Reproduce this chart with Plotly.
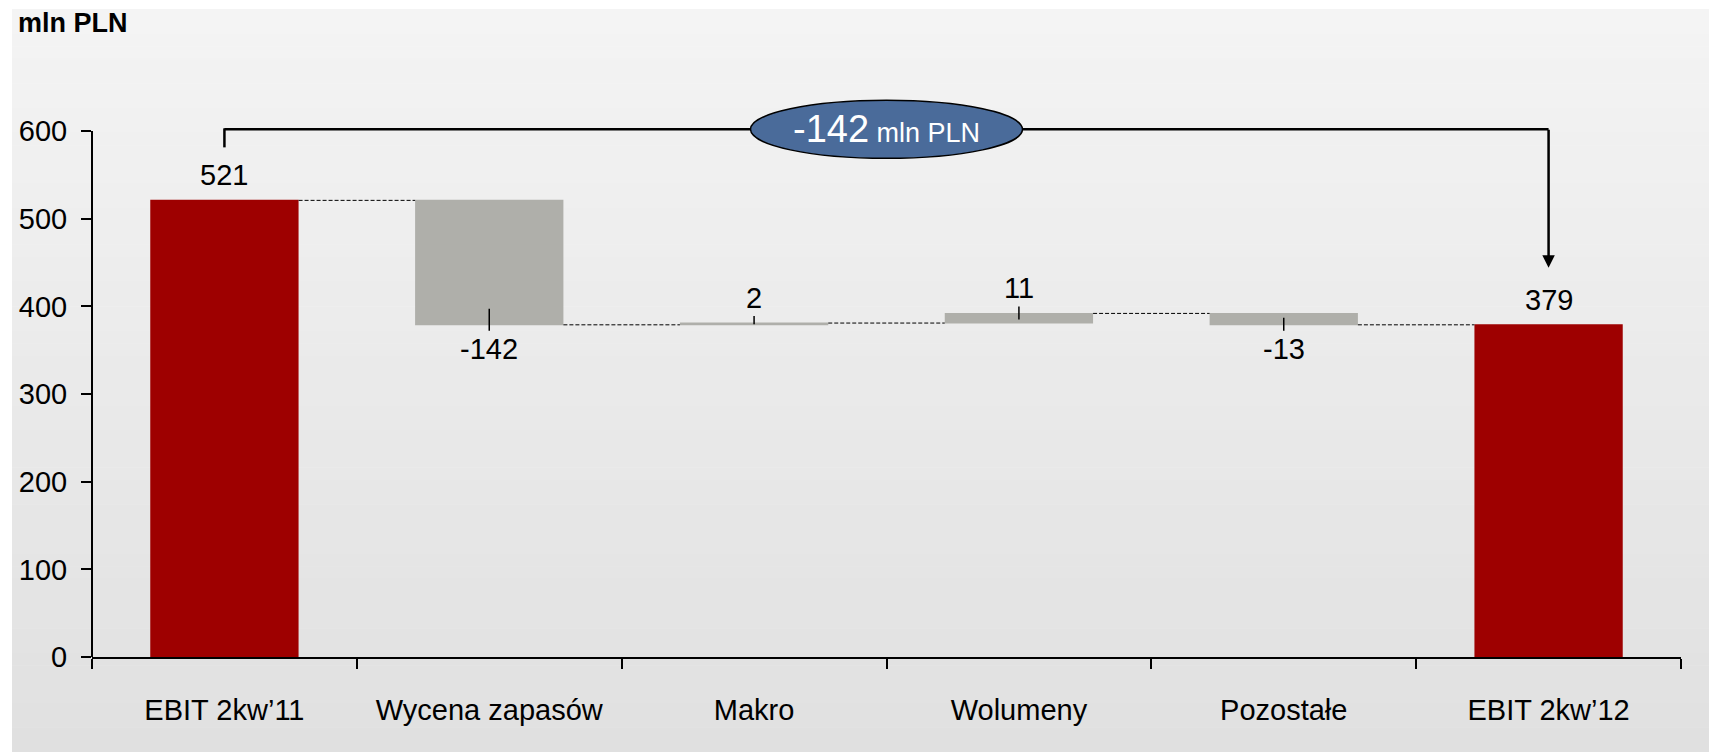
import plotly.graph_objects as go

# data
categories = ["EBIT 2kw’11", "Wycena zapasów", "Makro", "Wolumeny", "Pozostałe", "EBIT 2kw’12"]
values = [521, -142, 2, 11, -13, 379]
measures = ["absolute", "relative", "relative", "relative", "relative", "total"]
y_ticks = [0, 100, 200, 300, 400, 500, 600]
unit = "mln PLN"

RED = "#9e0000"
GREY = "#afafaa"
BLUE = "#4a6b9a"
FONT = "Liberation Sans, Arial"

# page has an 8px body margin, so the figure is made smaller by that much
OFF = 8
W, H = 1717 - OFF, 752 - OFF
ML, MR, MT, MB = 92 - OFF, 36, 61 - OFF, 95
Y_TOP = 680
BRACKET_Y = 602

def px_x(p):  # page pixel -> paper x
    return (p - OFF - ML) / (W - ML - MR)

def px_y(p):  # page pixel -> paper y
    return (H - MB - (p - OFF)) / (H - MT - MB)

# running ends of the bars
ends = []
run = 0
for v, m in zip(values, measures):
    if m == "absolute":
        run = v
    elif m == "relative":
        run = run + v
    ends.append(run)

fig = go.Figure(go.Waterfall(
    x=categories, y=values, measure=measures,
    increasing=dict(marker=dict(color=GREY)),
    decreasing=dict(marker=dict(color=GREY)),
    totals=dict(marker=dict(color=RED)),
    connector=dict(mode="between", line=dict(color="black", width=1, dash="4px,2px")),
    textinfo="none", hoverinfo="skip", showlegend=False,
))

shapes = []
# gradient background
n = 60
top, bot = 9, 752
for i in range(n):
    a = top + (bot - top) * i / n
    b = top + (bot - top) * (i + 1) / n
    c = round(244 - 20 * (i + 0.5) / n)
    shapes.append(dict(type="rect", xref="paper", yref="paper", layer="below",
                       x0=px_x(12), x1=px_x(1720), y0=px_y(b + 0.5), y1=px_y(a),
                       fillcolor=f"rgb({c},{c},{c})", line=dict(width=0)))
# y axis line only up to 600
shapes.append(dict(type="line", xref="paper", yref="y", x0=0, x1=0, y0=0, y1=y_ticks[-1],
                   line=dict(color="black", width=2)))

annotations = []
for i, (v, m, e) in enumerate(zip(values, measures, ends)):
    if m == "relative":
        txt = str(v)
        inward = min(16, abs(v) * 0.55)
        if v >= 0:
            annotations.append(dict(x=i, y=e, text=txt, showarrow=False, yanchor="bottom", yshift=7))
            shapes.append(dict(type="line", xref="x", yref="y", ysizemode="pixel", yanchor=e,
                               x0=i, x1=i, y0=-inward, y1=7, line=dict(color="black", width=1.5)))
        else:
            annotations.append(dict(x=i, y=e, text=txt, showarrow=False, yanchor="top", yshift=-6))
            shapes.append(dict(type="line", xref="x", yref="y", ysizemode="pixel", yanchor=e,
                               x0=i, x1=i, y0=-6, y1=inward, line=dict(color="black", width=1.5)))
    else:
        annotations.append(dict(x=i, y=e, text=str(e), showarrow=False, yanchor="bottom", yshift=7))

# bracket with change bubble
last = len(categories) - 1
shapes.append(dict(type="line", xref="x", yref="y", ysizemode="pixel", yanchor=BRACKET_Y,
                   x0=0, x1=0, y0=-18, y1=1, line=dict(color="black", width=2.5)))
shapes.append(dict(type="line", xref="x", yref="y", x0=0, x1=last, y0=BRACKET_Y, y1=BRACKET_Y,
                   line=dict(color="black", width=2.5)))
annotations.append(dict(x=last, y=ends[-1], ax=last, ay=BRACKET_Y, axref="x", ayref="y",
                        text="", font=dict(size=1), borderpad=0, showarrow=True,
                        arrowhead=2, arrowsize=1, arrowwidth=2.5, arrowcolor="black", standoff=57))
shapes.append(dict(type="circle", xref="x", yref="y", xsizemode="pixel", ysizemode="pixel",
                   xanchor=2.5, yanchor=BRACKET_Y, x0=-136, x1=136, y0=-29, y1=29,
                   fillcolor=BLUE, line=dict(color="black", width=1.5), layer="above"))
change = ends[-1] - ends[0]
annotations.append(dict(x=2.5, y=BRACKET_Y, showarrow=False,
                        text=f"{change}<span style='font-size:27px'> {unit}</span>",
                        font=dict(size=38, color="white", family=FONT)))

# unit title
annotations.append(dict(xref="paper", yref="paper", x=px_x(16), y=px_y(23), xanchor="left",
                        yanchor="middle", showarrow=False, text=f"<b>{unit}</b>",
                        font=dict(size=27, color="black", family="Liberation Sans, Arial")))

fig.update_layout(
    width=W, height=H,
    margin=dict(l=ML, r=MR, t=MT, b=MB, autoexpand=False),
    paper_bgcolor="white", plot_bgcolor="rgba(0,0,0,0)",
    font=dict(family=FONT, size=29, color="black"),
    waterfallgap=0.44,
    shapes=shapes, annotations=annotations,
)
fig.update_xaxes(type="category", showgrid=False, showline=True, linecolor="black", linewidth=2,
                 ticks="outside", tickson="boundaries", ticklen=10, tickwidth=2, tickcolor="black",
                 tickangle=0, automargin=False, ticklabelstandoff=26, range=[-0.5, last + 0.5])
fig.update_yaxes(range=[0, Y_TOP], tickvals=y_ticks, showgrid=False, zeroline=False, showline=False,
                 automargin=False, ticks="outside", ticklen=10, tickwidth=2, tickcolor="black",
                 ticklabelstandoff=8)

fig.write_html("out.html")
